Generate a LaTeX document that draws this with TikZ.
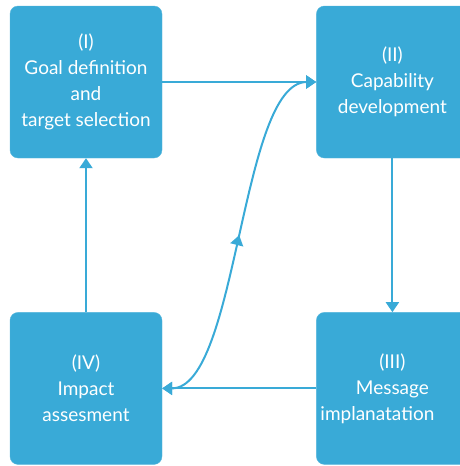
\documentclass[tikz,border=0pt]{standalone}
\usepackage{fontspec}
\setmainfont{Lato}
\usepackage{tikz}
\usetikzlibrary{positioning,arrows.meta,decorations.markings}
\definecolor{phaseblue}{RGB}{57,170,215}

\begin{document}
\begin{tikzpicture}[
  x=1pt, y=1pt,
  phase/.style={fill=phaseblue, draw=phaseblue!85!white, rounded corners=8pt,
                minimum width=152pt, minimum height=152pt, inner sep=0pt,
                align=center, text=white,
                font=\fontsize{19}{26}\selectfont},
  arr/.style={-{Triangle[width=13pt,length=10pt]}, line width=2pt, phaseblue},
  midarr/.style={postaction={decorate}, decoration={markings,
                 mark=at position 0.5 with {\arrow{Triangle[width=13pt,length=10pt]}}}},
  ]
  \useasboundingbox (0,0) rectangle (459,-466);

  \node[phase] (goal) at (86,-82) {(I)\\Goal definition\\and\\target selection};
  \node[phase, right=154pt of goal] (capab) {(II)\\Capability\\development};
  \node[phase, below=154pt of goal] (impact) {(IV)\\Impact\\assesment};
  \node[phase, below=154pt of capab] (implant) {(III)\\Message\\implanatation\hspace*{30pt}};

  \draw[arr] (goal) -- (capab);
  \draw[arr] (capab) -- (implant);
  \draw[arr] (implant) -- (impact);
  \draw[arr] (impact) -- (goal);
  % two-way link across the cycle
  \draw[arr, {Triangle[width=13pt,length=10pt]}-{Triangle[width=13pt,length=10pt]}, midarr]
    (impact.east) .. controls +(76,0) and +(-76,0) .. (capab.west);
\end{tikzpicture}
\end{document}
